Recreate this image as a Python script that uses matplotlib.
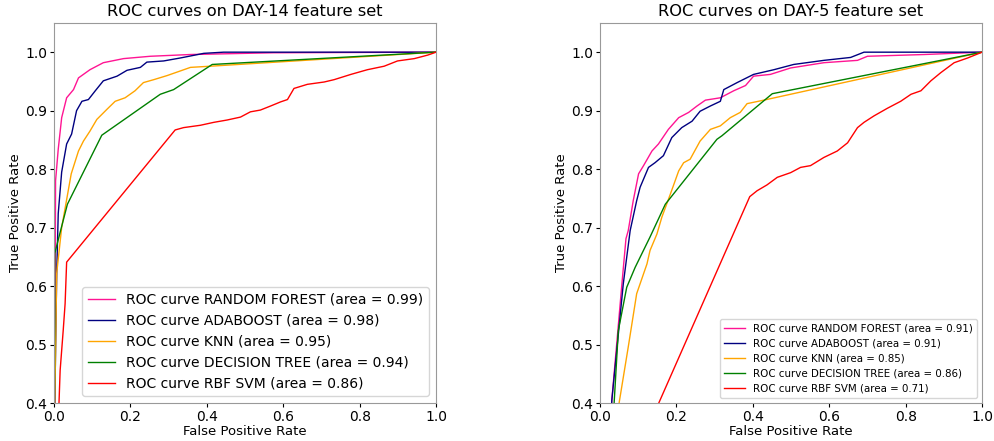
import numpy as np
import matplotlib
matplotlib.use('Agg')
import matplotlib.pyplot as plt

# ---------------- DAY-14 ----------------
rf14_fpr = [0.0, 0.003, 0.004, 0.011, 0.020, 0.033, 0.051, 0.064, 0.094, 0.129, 0.182, 0.252, 0.357, 0.575, 1.0]
rf14_tpr = [0.0, 0.600, 0.780, 0.834, 0.888, 0.922, 0.936, 0.956, 0.970, 0.982, 0.989, 0.993, 0.996, 0.999, 1.0]

ada14_fpr = [0.0, 0.002, 0.007, 0.011, 0.020, 0.033, 0.046, 0.059, 0.073, 0.090, 0.108, 0.129, 0.165, 0.191,
             0.226, 0.243, 0.287, 0.330, 0.392, 0.444, 1.0]
ada14_tpr = [0.0, 0.400, 0.622, 0.724, 0.795, 0.843, 0.860, 0.900, 0.916, 0.919, 0.934, 0.951, 0.959, 0.969,
             0.974, 0.983, 0.985, 0.990, 0.998, 1.0, 1.0]

knn14_fpr = [0.0, 0.002, 0.007, 0.020, 0.045, 0.064, 0.077, 0.094, 0.112, 0.138, 0.160, 0.186, 0.212, 0.234,
             0.261, 0.296, 0.331, 0.357, 0.409, 1.0]
knn14_tpr = [0.0, 0.400, 0.622, 0.700, 0.792, 0.831, 0.848, 0.865, 0.885, 0.902, 0.916, 0.922, 0.934, 0.948,
             0.953, 0.960, 0.968, 0.974, 0.976, 1.0]

dt14_fpr = [0.0, 0.001, 0.002, 0.016, 0.035, 0.125, 0.278, 0.313, 0.414, 1.0]
dt14_tpr = [0.0, 0.400, 0.656, 0.692, 0.740, 0.858, 0.928, 0.936, 0.979, 1.0]

svm14_fpr = [0.0, 0.013, 0.016, 0.024, 0.029, 0.033, 0.317, 0.339, 0.383, 0.418, 0.453, 0.488, 0.514, 0.540,
             0.567, 0.593, 0.611, 0.628, 0.663, 0.707, 0.733, 0.777, 0.820, 0.864, 0.899, 0.943, 0.978, 1.0]
svm14_tpr = [0.0, 0.400, 0.456, 0.524, 0.570, 0.641, 0.867, 0.871, 0.875, 0.880, 0.884, 0.889, 0.898, 0.901,
             0.908, 0.915, 0.919, 0.938, 0.945, 0.949, 0.953, 0.962, 0.970, 0.976, 0.985, 0.989, 0.995, 1.0]

# ---------------- DAY-5 ----------------
rf5_fpr = [0.0, 0.031, 0.057, 0.068, 0.074, 0.087, 0.101, 0.114, 0.136, 0.153, 0.179, 0.206, 0.232, 0.254,
           0.276, 0.315, 0.350, 0.381, 0.402, 0.446, 0.499, 0.586, 0.674, 0.700, 0.849, 1.0]
rf5_tpr = [0.0, 0.405, 0.601, 0.681, 0.695, 0.746, 0.792, 0.806, 0.831, 0.843, 0.868, 0.888, 0.897, 0.908,
           0.918, 0.922, 0.934, 0.943, 0.959, 0.962, 0.973, 0.982, 0.986, 0.993, 0.996, 1.0]

ada5_fpr = [0.0, 0.031, 0.061, 0.079, 0.096, 0.105, 0.127, 0.144, 0.166, 0.188, 0.214, 0.241, 0.262, 0.289,
            0.315, 0.324, 0.359, 0.402, 0.455, 0.507, 0.586, 0.656, 0.691, 1.0]
ada5_tpr = [0.0, 0.405, 0.604, 0.695, 0.746, 0.769, 0.803, 0.811, 0.823, 0.854, 0.871, 0.882, 0.899, 0.908,
            0.916, 0.936, 0.948, 0.962, 0.970, 0.979, 0.986, 0.991, 1.0, 1.0]

knn5_fpr = [0.0, 0.050, 0.074, 0.096, 0.123, 0.131, 0.149, 0.162, 0.184, 0.206, 0.219, 0.236, 0.262, 0.289,
            0.315, 0.341, 0.367, 0.385, 0.429, 1.0]
knn5_tpr = [0.0, 0.400, 0.496, 0.587, 0.638, 0.661, 0.689, 0.718, 0.757, 0.797, 0.811, 0.817, 0.848, 0.868,
            0.874, 0.888, 0.897, 0.912, 0.918, 1.0]

dt5_fpr = [0.0, 0.037, 0.048, 0.070, 0.092, 0.131, 0.171, 0.306, 0.319, 0.451, 1.0]
dt5_tpr = [0.0, 0.400, 0.524, 0.598, 0.632, 0.684, 0.740, 0.851, 0.857, 0.929, 1.0]

svm5_fpr = [0.0, 0.0, 0.392, 0.411, 0.437, 0.464, 0.499, 0.525, 0.551, 0.586, 0.621, 0.648, 0.674, 0.691,
            0.717, 0.752, 0.787, 0.814, 0.840, 0.866, 0.892, 0.927, 0.962, 1.0]
svm5_tpr = [0.0, 0.172, 0.753, 0.763, 0.773, 0.786, 0.794, 0.803, 0.806, 0.820, 0.831, 0.845, 0.871, 0.880,
            0.891, 0.904, 0.916, 0.928, 0.934, 0.951, 0.965, 0.982, 0.990, 1.0]

names = ['RANDOM FOREST', 'ADABOOST', 'KNN', 'DECISION TREE', 'RBF SVM']
auc14 = [0.99, 0.98, 0.95, 0.94, 0.86]
auc5 = [0.91, 0.91, 0.85, 0.86, 0.71]
farben = ['deeppink', 'navy', 'orange', 'green', 'red']

curves14 = [(rf14_fpr, rf14_tpr), (ada14_fpr, ada14_tpr), (knn14_fpr, knn14_tpr), (dt14_fpr, dt14_tpr), (svm14_fpr, svm14_tpr)]
curves5 = [(rf5_fpr, rf5_tpr), (ada5_fpr, ada5_tpr), (knn5_fpr, knn5_tpr), (dt5_fpr, dt5_tpr), (svm5_fpr, svm5_tpr)]

fig = plt.figure(figsize=(9.95, 4.41), dpi=100)
ax1 = fig.add_axes([0.0543, 0.086, 0.384, 0.862])
ax2 = fig.add_axes([0.603, 0.086, 0.384, 0.862])


def roc_plot(ax, curves, aucs, titel, legsize):
    for k in range(5):
        ax.plot(curves[k][0], curves[k][1], color=farben[k], linewidth=1,
                label='ROC curve ' + names[k] + ' (area = %0.2f)' % aucs[k])
    ax.set_xlim(0.0, 1.0)
    ax.set_ylim(0.4, 1.05)
    ax.set_title(titel, fontsize=11.7, pad=5)
    ax.set_xlabel('False Positive Rate', fontsize=9.5, labelpad=1)
    ax.set_ylabel('True Positive Rate', fontsize=9.5, labelpad=2)
    ax.tick_params(labelsize=10, length=3, pad=2)
    for sp in ax.spines.values():
        sp.set_color('0.6')
    ax.legend(loc='lower right', fontsize=legsize)


roc_plot(ax1, curves14, auc14, 'ROC curves on DAY-14 feature set', 10)
roc_plot(ax2, curves5, auc5, 'ROC curves on DAY-5 feature set', 7.4)

plt.savefig('out.png', dpi=100)
